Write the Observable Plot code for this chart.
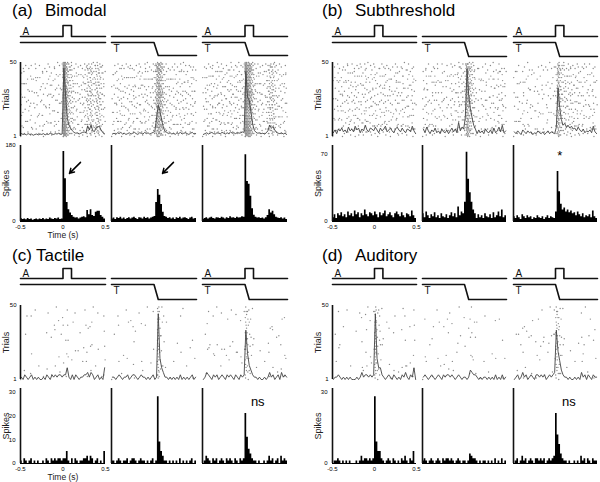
<!DOCTYPE html>
<html><head><meta charset="utf-8">
<script src="https://cdn.jsdelivr.net/npm/d3@7"></script>
<script src="https://cdn.jsdelivr.net/npm/@observablehq/plot@0.6"></script>
<style>
html,body{margin:0;padding:0;background:#fff;}
#fig{position:relative;width:600px;height:482px;overflow:hidden;background:#fff;font-family:Arial,"Liberation Sans",Helvetica,sans-serif;}
.title{position:absolute;font-size:17px;line-height:17px;white-space:pre;color:#000;}
</style></head><body><div id="fig"></div>
<script>
// ---------------- data ----------------
const panelLetters = ["(a)", "(b)", "(c)", "(d)"];
const panelTitles = ["Bimodal", "Subthreshold", "Tactile", "Auditory"];
const conditions = ["A", "T", "AT"];           // columns: auditory, tactile, auditory+tactile
const binWidth = 0.02;                          // s, 50 bins from -0.5 to 0.5
const timeDomain = [-0.5, 0.5];
const timeTicks = [-0.5, 0, 0.5];
const timeTickLabels = ["-0.5", "0", "0.5"];
const timeAxisLabel = "Time (s)";
const trialTicks = [1, 50];
const trialsLabel = "Trials";
const spikesLabel = "Spikes";

// PSTH spike counts per 20 ms bin
const aA  = [7,5,6,4,7,5,6,3,5,6, 4,6,5,7,4,6,5,8,6,5, 7,6,8,5,6, 166,101,45,28,20, 14,10,8,9,6, 8,10,11,9,26, 16,28,14,12,22, 24,24,14,10,6];
const aT  = [6,8,5,9,7,10,6,8,5,7, 9,6,8,10,7,5,9,8,6,10, 7,9,6,8,10, 12,45,76,62,40, 22,12,10,7,9, 6,8,5,9,7, 10,6,8,9,7, 5,8,10,6,7];
const aAT = [5,7,9,6,8,10,7,6,9,8, 7,10,8,6,9,7,11,8,9,7, 10,8,9,11,10, 158,95,88,60,30, 15,10,8,9,7, 8,6,9,14,28, 20,24,16,10,8, 7,9,6,8,5];
const bA  = [4,7,3,8,6,9,5,7,4,10, 6,8,5,11,7,9,4,8,6,12, 7,5,9,8,6, 10,7,4,9,6, 8,11,5,7,9, 6,4,8,10,7, 5,9,6,4,8, 7,5,11,6,3];
const bT  = [8,4,10,6,3,7,5,9,4,6, 3,8,5,4,7,3,6,9,5,8, 4,15,6,10,8, 20,72,44,30,20, 12,8,3,7,4, 6,3,8,5,4, 7,3,9,4,6, 10,5,12,4,6];
const bAT = [5,3,6,4,2,7,5,3,6,4, 5,2,4,3,6,4,3,5,2,4, 6,3,5,4,3, 10,52,31,18,12, 14,10,12,9,11, 8,9,6,10,7, 5,8,4,6,5, 7,4,11,5,3];
const cA  = [1,0,2,1,0,1,2,0,1,0, 1,0,0,1,0,2,1,0,2,1, 2,1,2,2,1, 2,2,5,1,0, 2,0,2,1,0, 1,1,2,2,3, 1,3,2,0,1, 2,0,1,0,5];
const cT  = [1,1,0,1,2,1,0,1,1,2, 0,1,2,2,1,0,1,2,1,1, 0,1,0,1,2, 0,1,28,9,5, 3,1,1,0,1, 0,1,0,1,0, 2,0,1,0,1, 0,1,2,0,1];
const cAT = [0,1,3,2,1,0,2,1,2,0, 1,2,1,0,2,1,2,1,0,2, 1,0,2,1,2, 21,11,6,4,2, 1,1,0,1,0, 0,1,0,1,3, 1,2,0,1,2, 0,3,1,2,1];
const dA  = [0,1,1,2,1,0,1,0,1,0, 1,0,0,0,1,0,1,3,1,2, 2,1,2,1,2, 28,9,5,5,2, 1,0,1,2,1, 0,2,1,0,1, 0,2,1,3,1, 0,2,1,5,0];
const dT  = [1,2,1,0,1,2,1,0,1,2, 1,0,2,1,2,2,1,2,1,0, 1,2,1,0,1, 1,0,1,4,3, 2,2,1,0,1, 0,1,1,0,1, 0,1,0,2,0, 1,0,2,0,1];
const dAT = [0,1,2,0,1,3,1,2,0,1, 2,1,0,2,2,1,2,1,2,0, 1,2,1,2,3, 21,12,8,4,2, 1,1,0,1,0, 0,1,0,1,0, 3,1,2,0,2, 1,0,2,1,1];

const histMax   = [180, 79, 31.5, 31.5];
const histTicks = [[0, 180], [0, 70], [0, 10, 20, 30], [0, 30]];

// stimulus traces (time, level)
const pulseTimes = [-0.5, 0, 0, 0.1, 0.1, 0.5];   const pulseLevels = [0, 0, 1, 1, 0, 0];
const stepTimes  = [-0.5, 0, 0.05, 0.5];          const stepLevels  = [1, 1, 0, 0];
const flatTimes  = [-0.5, 0.5];

// annotations: [panel, column, time, value, text]
const textNotes = [[1, 2, 0.05, 68, "*"], [2, 2, 0.15, 26, "ns"], [3, 2, 0.16, 26, "ns"]];
// arrows: [panel, column, t1, v1, t2, v2]
const arrowNotes = [[0, 0, 0.206, 140, 0.076, 114], [0, 1, 0.229, 140, 0.10, 114]];

// ---------------- layout ----------------
const L = [
  {cols:[20,111,202], w:85, tx:[12,45],  ty:1.6,   stimA:[25,36],   stimT:[42,55],   raster:[62,136],  hist:[145,221], timeLabel:true},
  {cols:[332,422,513], w:84, tx:[322,355], ty:1.6,  stimA:[25,36],   stimT:[42,56],   raster:[62,136],  hist:[145,221], timeLabel:false},
  {cols:[20,111,202], w:85, tx:[12,36],  ty:246.6, stimA:[268,278], stimT:[284,299], raster:[305,379], hist:[388,463], timeLabel:true},
  {cols:[332,422,513], w:84, tx:[322,355], ty:246.6,stimA:[268,278], stimT:[284,299], raster:[305,379], hist:[388,463], timeLabel:false}
];
const counts = [[aA,aT,aAT],[bA,bT,bAT],[cA,cT,cAT],[dA,dT,dAT]];
const FONT = "Arial, 'Liberation Sans', Helvetica, sans-serif";
const fig = document.getElementById("fig");

function toBins(c) {
  return c.map((v, i) => ({x1: timeDomain[0] + i*binWidth, t: timeDomain[0] + (i+0.5)*binWidth, v}));
}
function toSteps(c) {
  const s = c.map((v, i) => ({t: timeDomain[0] + i*binWidth, v}));
  s.push({t: timeDomain[1], v: c[c.length - 1]});
  return s;
}
// raster: every counted spike of a bin is drawn as one dot, spread over the 50 trials
function toSpikes(c) {
  const out = [];
  c.forEach((n, i) => {
    const off = (i * 0.6180339887) % 1;
    for (let k = 0; k < n; k++) {
      const u = (k + off) / n;
      const w = (k * 0.7548776662 + i * 0.5698402910 + 0.1) % 1;
      out.push({t: timeDomain[0] + (i + w) * binWidth, trial: Math.round(1 + u * 49)});
    }
  });
  return out;
}
function trace(times, levels) { return times.map((t, i) => ({t, v: levels[i]})); }

function cell(x, top, bottom, w, opts) {
  const svg = Plot.plot({
    width: w, height: bottom - top,
    marginTop: 0, marginRight: 0, marginBottom: 0, marginLeft: 0,
    ...opts,
    x: {domain: timeDomain, ...(opts.x || {})},
    style: `background: none; overflow: visible; font-family: ${FONT};`
  });
  svg.style.position = "absolute";
  svg.style.left = x + "px";
  svg.style.top = top + "px";
  svg.style.maxWidth = "none";
  fig.append(svg);
}

// titles
L.forEach((lay, p) => {
  for (const [k, txt] of [[0, panelLetters[p]], [1, panelTitles[p]]]) {
    const d = document.createElement("div");
    d.className = "title";
    d.textContent = txt;
    d.style.left = lay.tx[k] + "px";
    d.style.top = lay.ty + "px";
    fig.append(d);
  }
});

L.forEach((lay, p) => {
  conditions.forEach((cond, j) => {
    const x = lay.cols[j], w = lay.w;
    const hasA = cond.includes("A"), hasT = cond.includes("T");
    const bins = toBins(counts[p][j]);
    const max = histMax[p];

    // auditory stimulus trace
    cell(x, lay.stimA[0], lay.stimA[1], w, {
      x: {axis: null}, y: {domain: [0, 1], axis: null},
      marks: [
        Plot.line(hasA ? trace(pulseTimes, pulseLevels) : trace(flatTimes, [0, 0]), {x: "t", y: "v", stroke: "#111", strokeWidth: 1.6}),
        hasA ? Plot.text(["A"], {x: () => timeDomain[0], y: () => 0, dx: 2, dy: -2, textAnchor: "start", lineAnchor: "bottom", fontSize: 10, fill: "#111"}) : null
      ]
    });
    // tactile stimulus trace
    cell(x, lay.stimT[0], lay.stimT[1], w, {
      x: {axis: null}, y: {domain: [0, 1], axis: null},
      marks: [
        Plot.line(hasT ? trace(stepTimes, stepLevels) : trace(flatTimes, [1, 1]), {x: "t", y: "v", stroke: "#111", strokeWidth: 1.6}),
        hasT ? Plot.text(["T"], {x: () => timeDomain[0], y: () => 1, dx: 2, dy: 2, textAnchor: "start", lineAnchor: "top", fontSize: 10, fill: "#111"}) : null
      ]
    });

    // raster
    const rasterMarks = [
      Plot.dot(toSpikes(counts[p][j]), {x: "t", y: "trial", r: 0.7, fill: "#8a8a8a"}),
      Plot.line(bins, {x: "t", y: d => 1 + 49 * d.v / max, stroke: "#444", strokeWidth: 0.9})
    ];
    if (j === 0) {
      rasterMarks.push(
        Plot.ruleX([timeDomain[0]], {stroke: "#111", strokeWidth: 1.6}),
        Plot.axisY(trialTicks, {tickSize: 0, tickPadding: 4, fontSize: 6, label: null}),
        Plot.text([trialsLabel], {frameAnchor: "left", dx: -14.5, rotate: -90, fontSize: 9, fill: "#222", textAnchor: "middle", lineAnchor: "middle"})
      );
    }
    cell(x, lay.raster[0], lay.raster[1], w, {
      x: {axis: null}, y: j === 0 ? {domain: [1, 50]} : {domain: [1, 50], axis: null},
      marks: rasterMarks
    });

    // histogram
    const histMarks = [
      Plot.areaY(toSteps(counts[p][j]), {x: "t", y: "v", curve: "step-after", fill: "#000"}),
      Plot.ruleY([0], {stroke: "#000", strokeWidth: 1}),
      Plot.ruleX([timeDomain[0]], {stroke: "#111", strokeWidth: 1.6})
    ];
    if (j === 0) {
      histMarks.push(
        Plot.axisY(histTicks[p], {tickSize: 0, tickPadding: 5, fontSize: 6, label: null}),
        Plot.axisX(timeTicks, {tickSize: 0, tickPadding: 3, fontSize: 6, label: null, tickFormat: d => timeTickLabels[timeTicks.indexOf(d)]}),
        Plot.text([spikesLabel], {frameAnchor: "left", dx: -14.5, rotate: -90, fontSize: 9, fill: "#222", textAnchor: "middle", lineAnchor: "middle"})
      );
      if (lay.timeLabel) histMarks.push(Plot.text([timeAxisLabel], {frameAnchor: "bottom", dy: 14, fontSize: 8.5, fill: "#222", lineAnchor: "middle"}));
    }
    const notes = textNotes.filter(n => n[0] === p && n[1] === j);
    if (notes.length) histMarks.push(Plot.text(notes, {x: d => d[2], y: d => d[3], text: d => d[4], fontSize: 13, fill: "#000", lineAnchor: "middle"}));
    const arrows = arrowNotes.filter(n => n[0] === p && n[1] === j);
    if (arrows.length) histMarks.push(Plot.arrow(arrows, {x1: d => d[2], y1: d => d[3], x2: d => d[4], y2: d => d[5], stroke: "#000", strokeWidth: 1.5, headLength: 6}));
    const opts = {y: {domain: [0, max]}, marks: histMarks};
    if (j !== 0) { opts.x = {axis: null}; opts.y.axis = null; }
    cell(x, lay.hist[0], lay.hist[1], w, opts);
  });
});
</script>
</body></html>
